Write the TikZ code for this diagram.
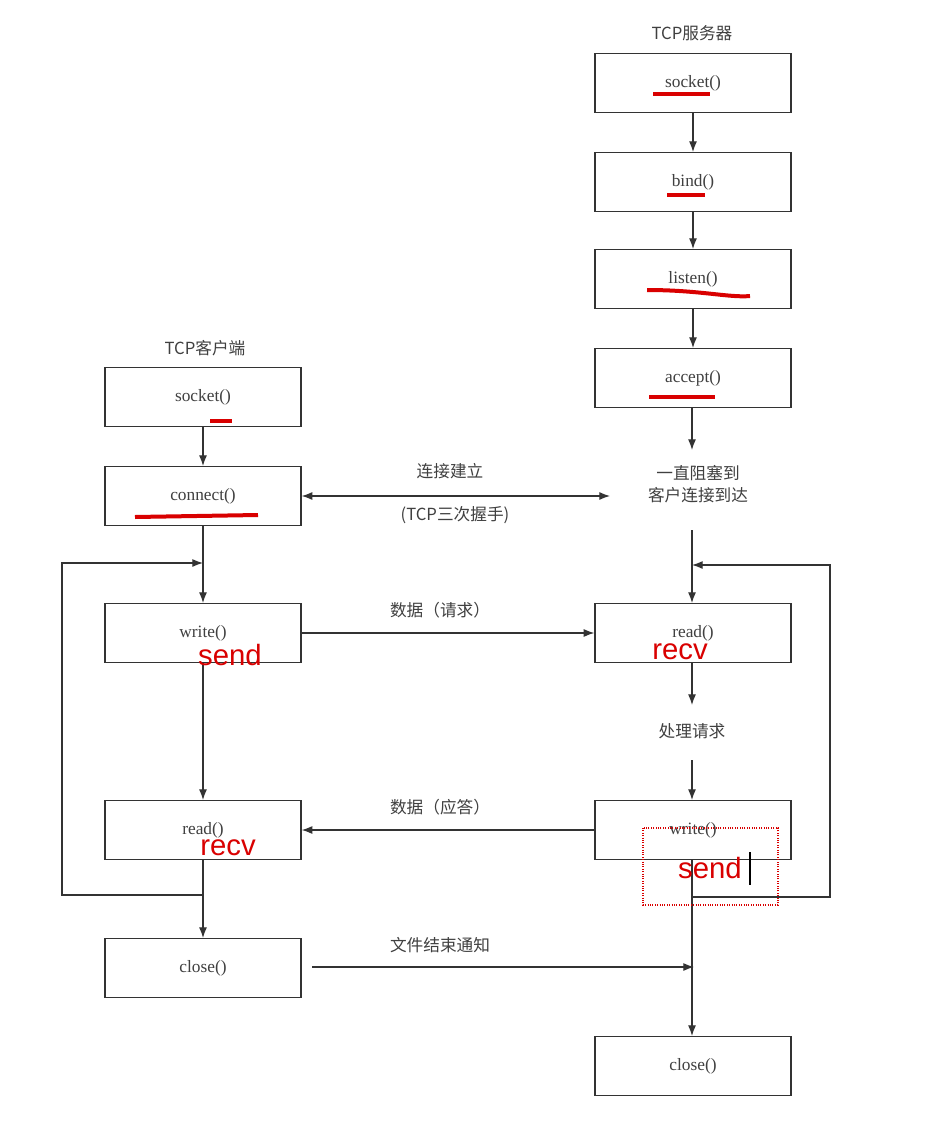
\documentclass[tikz,border=0pt]{standalone}
\usepackage{fontspec}
\usetikzlibrary{arrows.meta}
\setmainfont{Liberation Serif}
\newfontfamily\cjk{Noto Sans CJK SC}
\newfontfamily\redsans{Liberation Sans}
\begin{document}
\begin{tikzpicture}[x=0.75pt,y=-0.75pt,
  box/.style={draw=black!80,line width=1pt,minimum width=147pt,minimum height=44pt,inner sep=0pt,font=\fontsize{13}{15}\selectfont,text=black!75},
  lbl/.style={font=\fontsize{12.5}{16}\selectfont\cjk,text=black!75},
  arr/.style={-{Latex[length=8pt,width=6pt]},line width=0.9pt,draw=black!80},
  red/.style={text=red!85!black,font=\fontsize{22}{24}\selectfont\redsans},
  ul/.style={draw=red!85!black,line width=3pt}]
\useasboundingbox (0,0) rectangle (936,1124);
\fill[white] (0,0) rectangle (936,1124);
% server
\node[lbl] (tsrv) at (692,33) {TCP服务器};
\node[box] (ssock) at (693,83) {socket()};
\node[box] (sbind) at (693,182) {bind()};
\node[box] (slist) at (693,279) {listen()};
\node[box] (sacc) at (693,378) {accept()};
\node[lbl,align=center] (block) at (698,484) {一直阻塞到\\客户连接到达};
\node[box] (sread) at (693,633) {read()};
\node[lbl] (proc) at (692,731) {处理请求};
\node[box] (swrite) at (693,830) {write()};
\node[box] (sclose) at (693,1066) {close()};
% client
\node[lbl] (tcli) at (205,348) {TCP客户端};
\node[box] (csock) at (203,397) {socket()};
\node[box] (cconn) at (203,496) {connect()};
\node[box] (cwrite) at (203,633) {write()};
\node[box] (cread) at (203,830) {read()};
\node[box] (cclose) at (203,968) {close()};
% server chain
\draw[arr] (ssock) -- (sbind);
\draw[arr] (sbind) -- (slist);
\draw[arr] (slist) -- (sacc);
\draw[arr] (sacc.south -| 692,0) -- (692,450);
\coordinate (bb) at (692,530);
\draw[arr] (bb) -- (sread.north -| bb);
\draw[arr] (sread.south -| bb) -- (692,705);
\draw[arr] (692,760) -- (swrite.north -| bb);
\draw[arr] (swrite.south -| bb) -- (sclose.north -| bb);
\coordinate (sl1) at (692,897);
\coordinate (sl2) at (692,565);
\draw[arr] (sl1) -- (830,897) -- (830,565) -- (sl2);
% client chain
\draw[arr] (csock) -- (cconn);
\draw[arr] (cconn) -- (cwrite);
\draw[arr] (cwrite) -- (cread);
\draw[arr] (cread) -- (cclose);
\coordinate (cl1) at (203,895);
\coordinate (cl2) at (203,563);
\draw[arr] (cl1) -- (62,895) -- (62,563) -- (cl2);
% horizontal
\coordinate (blk) at (610,496);
\draw[arr,{Latex[length=8pt,width=6pt]}-{Latex[length=8pt,width=6pt]}] (cconn.east) -- (blk);
\node[lbl] (l1) at (450,471) {连接建立};
\node[lbl] (l2) at (455,515) {(TCP三次握手)};
\draw[arr] (cwrite.east) -- (sread.west);
\node[lbl] (l3) at (440,610) {数据（请求）};
\draw[arr] (swrite.west) -- (cread.east);
\node[lbl] (l4) at (440,807) {数据（应答）};
\coordinate (fin) at (694,967);
\draw[arr] (312,967) -- (fin);
\node[lbl] (l5) at (440,945) {文件结束通知};
% red annotations
\draw[ul] (653,94) -- (710,94);
\draw[ul] (667,195) -- (705,195);
\draw[ul] (647,290) .. controls (700,290) and (730,298) .. (750,296);
\draw[ul] (649,397) -- (715,397);
\draw[ul] (210,421) -- (232,421);
\draw[ul] (135,517) -- (258,515);
\node[red] (r1) at (230,655) {send};
\node[red] (r2) at (680,652) {recv};
\node[red] (r3) at (228,848) {recv};
\node[red] (r4) at (710,868) {send};
\draw[red!85!black,densely dotted,line width=0.8pt] (643,828) rectangle (778,905);
\draw[black,line width=1pt] (750,852) -- (750,885);
\end{tikzpicture}
\end{document}
